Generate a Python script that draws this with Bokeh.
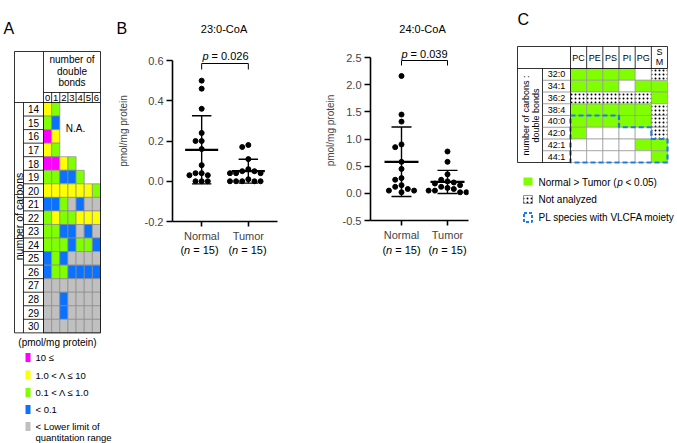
import numpy as np
from bokeh.plotting import figure
from bokeh.models import Range1d, FixedTicker, PrintfTickFormatter
from bokeh.layouts import row, column
from bokeh.embed import file_html
from bokeh.resources import INLINE
from bokeh.core.properties import value

FONT = "Liberation Sans"
H = 443

# ---------------- Panel A data ----------------
carbons = list(range(14, 31))
double_bonds = [0, 1, 2, 3, 4, 5, 6]
levels = [
    "YG-----", "GB-----", "MY-----", "YG-----", "MMYG---", "GGBBG--",
    "YYYYYYG", "BBGLBLL", "GYGGYYY", "GGBBLBL", "GGGBGGB", "BGBLLLL",
    "BGGBBBB", "LLLLLLL", "LLBLLLL", "LLBLLLL", "LLLLLLL",
]
level_keys = ["M", "Y", "G", "B", "L"]
level_colors = ["#ff00ff", "#ffff00", "#7fff00", "#0a72ff", "#c0c0c0"]
level_labels = ["10 \u2264", "1.0 < \u039b \u2264 10", "0.1 < \u039b \u2264 1.0", "< 0.1",
                "< Lower limit of"]
level_label_extra = "quantitation range"

# ---------------- Panel B data ----------------
groups = ["Normal", "Tumor"]
n_per_group = 15
titles_B = ["23:0-CoA", "24:0-CoA"]
pvals_B = ["0.026", "0.039"]
normal_230 = [0.50, 0.46, 0.36, 0.24, 0.20, 0.20, 0.16, 0.08, 0.04, 0.04, 0.03, 0.03, 0.0, 0.0, 0.0]
tumor_230 = [0.18, 0.17, 0.11, 0.06, 0.05, 0.05, 0.04, 0.04, 0.04, 0.01, 0.0, 0.0, 0.0, 0.0, 0.0]
normal_240 = [2.16, 1.45, 1.32, 0.90, 0.85, 0.58, 0.45, 0.28, 0.25, 0.15, 0.12, 0.08, 0.05, 0.05, 0.02]
tumor_240 = [0.77, 0.58, 0.35, 0.25, 0.22, 0.20, 0.18, 0.15, 0.12, 0.10, 0.08, 0.05, 0.05, 0.02, 0.02]
yticks_230 = [-0.2, 0.0, 0.2, 0.4, 0.6]
yticks_240 = [-0.5, 0.0, 0.5, 1.0, 1.5, 2.0, 2.5]

# ---------------- Panel C data ----------------
pl_classes = ["PC", "PE", "PS", "PI", "PG", "SM"]
pl_species = ["32:0", "34:1", "36:2", "38:4", "40:0", "42:0", "42:1", "44:1"]
pl_status = ["GGGGWD", "GGGWGG", "DDDDDG", "GGGGGD", "GGGGGD", "GWWWWD", "WWWWGG", "WWWWWG"]
vlcfa_first = [4, 4, 4, 5, 5, 6]   # first VLCFA species row per class
GREEN = "#7fff00"
BLUE_D = "#1a7fe6"


def blank(w, h, xr, yr):
    p = figure(width=w, height=h, x_range=Range1d(*xr), y_range=Range1d(*yr),
               x_axis_type=None, y_axis_type=None, min_border=0, frame_align=False,
               output_backend="svg", toolbar_location=None)
    p.outline_line_color = None
    return p


def txt(p, x, y, t, size, align="center", baseline="middle", angle=0.0, style="normal", color="black"):
    p.text(x=[x], y=[y], text=[t], text_font=value(FONT), text_font_size=value(size),
           text_align=align, text_baseline=baseline, angle=angle, text_font_style=style,
           text_color=color)


# ================= Panel A =================
A_CW, A_RH = 8.143, 13.55
def A_x(px): return (px - 43.0) / A_CW - 0.5
def A_y(py): return 14 + (py - 108.8) / A_RH

A_W = 114
pA = blank(A_W, H, (A_x(0), A_x(A_W)), (A_y(H), A_y(0)))

xs, ys, cs = [], [], []
for c, codes in zip(carbons, levels):
    for j, code in zip(double_bonds, codes):
        if code in level_keys:
            xs.append(j); ys.append(c); cs.append(level_colors[level_keys.index(code)])
pA.rect(x=xs, y=ys, width=1, height=1, fill_color=cs, line_color="#8a8a8a", line_width=0.7)

top, hdr, dig = 51, 92, 102.0
bot = dig + len(carbons) * A_RH
xl, xlab, xdat, xr = 14, 23, 43, 43 + 7 * A_CW
segs = [(xl, top, xr, top), (xl, top, xl, bot), (xr, top, xr, bot), (xl, bot, xr, bot),
        (xdat, top, xdat, bot), (xl, dig, xr, dig), (xdat, hdr, xr, hdr), (xlab, dig, xlab, bot)]
for k in range(1, 7):
    segs.append((43 + k * A_CW, hdr, 43 + k * A_CW, dig))
for r in range(1, len(carbons)):
    segs.append((xlab, dig + r * A_RH, xdat, dig + r * A_RH))
pA.segment(x0=[A_x(s[0]) for s in segs], y0=[A_y(s[1]) for s in segs],
           x1=[A_x(s[2]) for s in segs], y1=[A_y(s[3]) for s in segs],
           line_color="black", line_width=0.8)

txt(pA, A_x(3), A_y(28), "A", "16px", align="left")
for t, yy in zip(["number of", "double", "bonds"], [59, 70.5, 82]):
    txt(pA, A_x(71.5), A_y(yy), t, "10px")
pA.text(x=double_bonds, y=[A_y(97)] * 7, text=[str(d) for d in double_bonds],
        text_font=value(FONT), text_font_size=value("9.5px"), text_align="center", text_baseline="middle")
pA.text(x=[A_x(33)] * len(carbons), y=carbons, text=[str(c) for c in carbons],
        text_font=value(FONT), text_font_size=value("10px"), text_align="center", text_baseline="middle")
txt(pA, A_x(75), A_y(128), "N.A.", "10px")
txt(pA, A_x(18.5), A_y(216), "number of carbons", "10.5px", angle=np.pi / 2)

txt(pA, A_x(57), A_y(342), "(pmol/mg protein)", "10px")
leg_y = [357, 374.5, 392, 409, 426]
pA.rect(x=[A_x(27.5)] * 5, y=[A_y(v) for v in leg_y], width=5 / A_CW, height=9 / A_RH,
        fill_color=level_colors, line_color=None)
for lab, yy in zip(level_labels, leg_y):
    txt(pA, A_x(35), A_y(yy), lab, "9.5px", align="left")
txt(pA, A_x(35), A_y(436.5), level_label_extra, "9.5px", align="left")


# ================= Panel B =================
B_LEFT, B_RIGHT = A_W, 473
HEAD_H, PLOT_BOT = 40, 244


def swarm(vals, ppu_y, step=6.3, dmin=5.6):
    placed = []
    offs = [0.0] * len(vals)
    order = np.argsort(-np.asarray(vals), kind="stable")
    for i in order:
        yp = vals[i] * ppu_y
        for k in [0, -1, 1, -2, 2, -3, 3, -4, 4]:
            xo = k * step
            if all((xo - px) ** 2 + (yp - py) ** 2 >= dmin ** 2 for py, px in placed):
                break
        placed.append((yp, xo)); offs[i] = xo
    return offs


def panel_B(normal, tumor, yticks, pval, fig_left, fig_w, ax_px, right_px, top_px, bot_px,
            norm_px, tum_px, ptext_y, br_top, br_bot, lab_standoff):
    ymin, ymax = yticks[0], yticks[-1]
    ppu_y = (bot_px - top_px) / (ymax - ymin)
    ppu_x = tum_px - norm_px
    def X(px): return 1 + (px - norm_px) / ppu_x
    def Y(py): return ymax - (py - top_px) / ppu_y
    p = figure(width=fig_w, height=PLOT_BOT - HEAD_H, x_range=Range1d(X(ax_px), X(right_px)),
               y_range=Range1d(ymin, Y(HEAD_H)), output_backend="svg", toolbar_location=None,
               frame_align=False,
               min_border_left=ax_px - fig_left, min_border_right=fig_left + fig_w - right_px,
               min_border_top=0, min_border_bottom=PLOT_BOT - bot_px)
    p.outline_line_color = None
    p.grid.visible = False
    for ax in (p.xaxis[0], p.yaxis[0]):
        ax.axis_line_width = 1.6
        ax.major_tick_line_width = 1.6
        ax.minor_tick_line_color = None
        ax.major_tick_in = 0
        ax.major_tick_out = 6
        ax.major_label_text_font = FONT
        ax.major_label_text_font_size = "11px"
    p.yaxis.bounds = (ymin, ymax)
    p.yaxis.ticker = FixedTicker(ticks=yticks)
    p.yaxis.formatter = PrintfTickFormatter(format="%.1f")
    p.yaxis.major_label_standoff = 3
    p.yaxis.axis_label = "pmol/mg protein"
    p.yaxis.axis_label_text_font = FONT
    p.yaxis.axis_label_text_font_size = "10px"
    p.yaxis.axis_label_text_font_style = "normal"
    p.yaxis.axis_label_standoff = lab_standoff
    p.xaxis.ticker = FixedTicker(ticks=[1, 2])
    p.xaxis.major_label_overrides = {1: groups[0], 2: groups[1]}
    p.xaxis.major_label_standoff = 3
    p.xaxis.major_tick_out = 5

    for gx, vals in zip([1, 2], [normal, tumor]):
        offs = swarm(vals, ppu_y)
        p.scatter(x=[gx + o / ppu_x for o in offs], y=vals, size=5, color="black")
        m = float(np.mean(vals)); sd = float(np.std(vals, ddof=1))
        p.segment(x0=[gx - 17 / ppu_x], y0=[m], x1=[gx + 17 / ppu_x], y1=[m], line_color="black", line_width=2.2)
        p.segment(x0=[gx, gx - 10 / ppu_x, gx - 10 / ppu_x], y0=[m - sd, m + sd, m - sd],
                  x1=[gx, gx + 10 / ppu_x, gx + 10 / ppu_x], y1=[m + sd, m + sd, m - sd],
                  line_color="black", line_width=1.4)
    # significance bracket and p value
    p.line(x=[1, 1, 2, 2], y=[Y(br_bot), Y(br_top), Y(br_top), Y(br_bot)], line_color="black", line_width=1)
    cx = (norm_px + tum_px) / 2
    txt(p, X(cx - 23.1), Y(ptext_y), "p", "11px", align="left", style="italic")
    txt(p, X(cx - 13.9), Y(ptext_y), "= " + pval, "11px", align="left")
    return p


pB1 = panel_B(normal_230, tumor_230, yticks_230, pvals_B[0], B_LEFT, 205, 169, 277, 60, 221,
              199, 247, 55, 63, 69, 13)
pB2 = panel_B(normal_240, tumor_240, yticks_240, pvals_B[1], B_LEFT + 205, B_RIGHT - B_LEFT - 205,
              370, 468, 57, 220, 401, 447, 53, 60, 65, 4)

# header (panel letter and titles)
pBh = blank(B_RIGHT - B_LEFT, HEAD_H, (B_LEFT, B_RIGHT), (HEAD_H, 0))
txt(pBh, 116, 28, "B", "16px", align="left")
for t, xx in zip(titles_B, [223.5, 422]):
    txt(pBh, xx, 28, t, "11px")

# group sizes under the category labels
pBl = blank(B_RIGHT - B_LEFT, H - PLOT_BOT, (B_LEFT, B_RIGHT), (H, PLOT_BOT))
for gpxs in ([199, 247], [401, 447]):
    for gpx in gpxs:
        txt(pBl, gpx - 19.1, 249.5, "(", "11px", align="left")
        txt(pBl, gpx - 15.4, 249.5, "n", "11px", align="left", style="italic")
        txt(pBl, gpx - 6.3, 249.5, "= %d)" % n_per_group, "11px", align="left")

colB = column(pBh, row(pB1, pB2, spacing=0), pBl, spacing=0)

# ================= Panel C =================
C_CW, C_RH = 16.17, 11.75
def C_x(px): return (px - 570.0) / C_CW
def C_y(py): return (py - 68.0) / C_RH

C_W = 677 - B_RIGHT
pC = blank(C_W, H, (C_x(B_RIGHT), C_x(677)), (C_y(H), C_y(0)))

gx_, gy_, gc_, dx_, dy_ = [], [], [], [], []
for j, st in enumerate(pl_status):
    for i, s in enumerate(st):
        if s == "D":
            dx_.append(i + 0.5); dy_.append(j + 0.5)
        else:
            gx_.append(i + 0.5); gy_.append(j + 0.5); gc_.append(GREEN if s == "G" else "white")
pC.rect(x=gx_, y=gy_, width=1, height=1, fill_color=gc_, line_color="#9a9a9a", line_width=0.7)
pC.rect(x=dx_, y=dy_, width=1, height=1, fill_color="white", line_color="#9a9a9a", line_width=0.7,
        hatch_pattern="dot", hatch_color="black", hatch_scale=4, hatch_weight=0.7)

ox, oy = [], []
for i, f in enumerate(vlcfa_first):
    ox += [i, i + 1]; oy += [f, f]
ox += [len(pl_classes), 0, 0]; oy += [len(pl_species), len(pl_species), vlcfa_first[0]]
pC.line(x=ox, y=oy, line_color=BLUE_D, line_width=2.2, line_dash="5 3")

ct, ch = 46, 68
cb = ch + len(pl_species) * C_RH
cl, clab, cdat = 517, 542, 570
cr = cdat + len(pl_classes) * C_CW
segs = [(cl, ct, cr, ct), (cl, ct, cl, cb), (cl, cb, cdat, cb), (cr, ct, cr, ch),
        (cl, ch, cr, ch), (clab, ch, clab, cb), (cdat, ct, cdat, cb)]
for k in range(1, 6):
    segs.append((cdat + k * C_CW, ct, cdat + k * C_CW, ch))
pC.segment(x0=[C_x(s[0]) for s in segs], y0=[C_y(s[1]) for s in segs],
           x1=[C_x(s[2]) for s in segs], y1=[C_y(s[3]) for s in segs], line_color="black", line_width=0.8)
rs = [ch + r * C_RH for r in range(1, len(pl_species))]
pC.segment(x0=[C_x(clab)] * len(rs), y0=[C_y(v) for v in rs], x1=[C_x(cdat)] * len(rs),
           y1=[C_y(v) for v in rs], line_color="#777777", line_width=0.7)

txt(pC, C_x(517), C_y(18.5), "C", "16px", align="left")
for i, cname in enumerate(pl_classes):
    if cname == "SM":
        txt(pC, i + 0.5, C_y(51.5), cname[0], "9px")
        txt(pC, i + 0.5, C_y(61.5), cname[1], "9px")
    else:
        txt(pC, i + 0.5, C_y(57.5), cname, "9px")
pC.text(x=[C_x(556)] * len(pl_species), y=[j + 0.5 for j in range(len(pl_species))], text=pl_species,
        text_font=value(FONT), text_font_size=value("9px"), text_align="center", text_baseline="middle")
txt(pC, C_x(525), C_y(115), "number of carbons :", "9px", angle=np.pi / 2)
txt(pC, C_x(535.5), C_y(115), "double bonds", "9px", angle=np.pi / 2)

pC.rect(x=[C_x(527.5)], y=[C_y(181)], width=9 / C_CW, height=8 / C_RH, fill_color=GREEN, line_color=None)
pC.rect(x=[C_x(527.5)], y=[C_y(199)], width=9 / C_CW, height=8 / C_RH, fill_color="white",
        line_color="#555555", line_width=0.6, hatch_pattern="dot", hatch_color="black", hatch_scale=4,
        hatch_weight=0.7)
pC.rect(x=[C_x(527.5)], y=[C_y(217)], width=8 / C_CW, height=9 / C_RH, fill_color=None,
        line_color=BLUE_D, line_width=2, line_dash="3 2")
txt(pC, C_x(538), C_y(181.5), "Normal > Tumor (", "10px", align="left")
txt(pC, C_x(538 + 78.7), C_y(181.5), "p", "10px", align="left", style="italic")
txt(pC, C_x(538 + 87.0), C_y(181.5), "< 0.05)", "10px", align="left")
txt(pC, C_x(538), C_y(199), "Not analyzed", "10px", align="left")
txt(pC, C_x(538), C_y(217), "PL species with VLCFA moiety", "10px", align="left")

layout = row(pA, colB, pC, spacing=0)
open("out.html", "w").write(file_html(layout, INLINE))
